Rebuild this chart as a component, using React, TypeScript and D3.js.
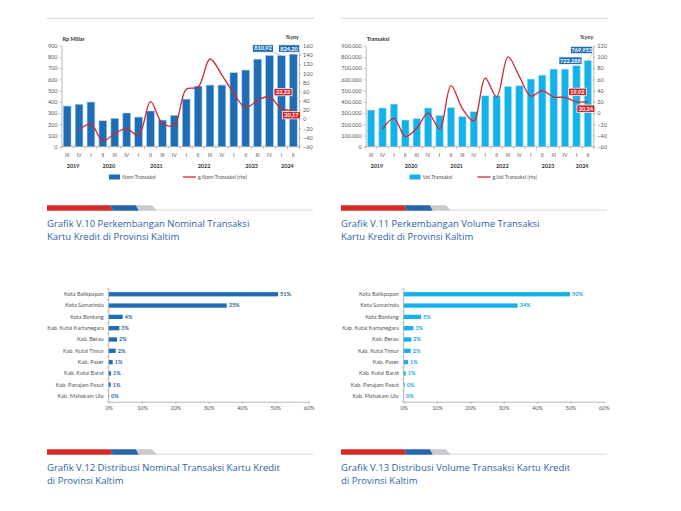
import { useEffect, useRef } from "react";
import * as d3 from "d3";

// quarterly series, 2019 Q3 .. 2024 Q2
const quarterLabels = ["III", "IV", "I", "II", "III", "IV", "I", "II", "III", "IV", "I", "II", "III", "IV", "I", "II", "III", "IV", "I", "II"];
const yearLabels = ["2019", "2020", "2021", "2022", "2023", "2024"];
const yearSpans = [2, 4, 4, 4, 4, 2];

const nominalValues = [362, 378, 398, 231, 252, 300, 264, 318, 237, 279, 424, 540, 549, 549, 659, 683, 780, 812, 810.92, 824.2];
const nominalGrowth = [null, -23, -11, -48, -31, -21, -35, 38, -9, -13, 65, 70, 131, 96, 56, 25, 41, 49, 22.32, 20.17];

const volumeValues = [327000, 345000, 380000, 238000, 252000, 345000, 279000, 350000, 270000, 312000, 454000, 454000, 538000, 543000, 603000, 638000, 692000, 692000, 722288, 769953];
const volumeGrowth = [null, -28.5, -9.5, -42, -27, 0, -28, 49, 8, -14, 62, 29, 100, 65, 30, 40, 28.5, 28, 19.92, 20.24];

const nominalTicks = [0, 100, 200, 300, 400, 500, 600, 700, 800, 900];
const nominalGrowthTicks = [-60, -40, -20, 0, 20, 40, 60, 80, 100, 120, 140, 160];
const volumeTicks = [0, 100000, 200000, 300000, 400000, 500000, 600000, 700000, 800000, 900000];
const volumeGrowthTicks = [-60, -40, -20, 0, 20, 40, 60, 80, 100, 120];

// distribution by district, Q2 2024
const districts = ["Kota Balikpapan", "Kota Samarinda", "Kota Bontang", "Kab. Kutai Kartanegara", "Kab. Berau", "Kab. Kutai Timur", "Kab. Paser", "Kab. Kutai Barat", "Kab. Panajam Pasut", "Kab. Mahakam Ulu"];
const nominalShare = [50.8, 35.4, 4.2, 3.2, 2.5, 2.1, 1.2, 0.7, 0.6, 0.1];
const nominalShareLabels = ["51%", "35%", "4%", "3%", "2%", "2%", "1%", "1%", "1%", "0%"];
const volumeShare = [49.9, 34.2, 5.2, 2.9, 2.3, 2.1, 1.3, 0.6, 0.3, 0.1];
const volumeShareLabels = ["50%", "34%", "5%", "3%", "2%", "2%", "1%", "1%", "0%", "0%"];
const shareTicks = [0, 10, 20, 30, 40, 50, 60];

const idLocale = d3.formatLocale({ decimal: ",", thousands: ".", grouping: [3], currency: ["", ""] });
const fmtInt = idLocale.format(",d");
const fmt2 = idLocale.format(".2f");

const FONT = "Lato, 'Open Sans', sans-serif";
const CAPTION_FONT = "'Open Sans', Lato, sans-serif";
const RED = "#d3262d";
const AXIS = "#8c8c8c";
const TEXT = "#555";

interface Note {
  index: number;
  series: "bar" | "line";
  dx: number;
  dy: number;
  w: number;
  leader?: boolean;
}

interface ComboProps {
  x0: number;
  x1: number;
  bars: number[];
  growth: Array<number | null>;
  leftTicks: number[];
  rightTicks: number[];
  leftFormat: (v: number) => string;
  barFormat: (v: number) => string;
  unit: string;
  barColor: string;
  barStroke: string;
  boxColor: string;
  barLegend: string;
  lineLegend: string;
  legendX: number;
  lineLegendX: number;
  notes: Note[];
}

const TOP = 45.7;
const BOTTOM = 146.7;

function ComboChart(p: ComboProps) {
  const ref = useRef<SVGGElement>(null);

  useEffect(() => {
    const g = d3.select(ref.current);
    g.selectAll("*").remove();

    const x = d3
      .scaleBand<number>()
      .domain(d3.range(quarterLabels.length))
      .range([p.x0, p.x1])
      .paddingInner(0.35)
      .paddingOuter(0.15);
    const yL = d3
      .scaleLinear()
      .domain([0, d3.max(p.leftTicks) ?? 0])
      .range([BOTTOM, TOP]);
    const yR = d3
      .scaleLinear()
      .domain(d3.extent(p.rightTicks) as [number, number])
      .range([BOTTOM, TOP]);
    const cx = (i: number) => (x(i) ?? 0) + x.bandwidth() / 2;

    // bars
    g.append("g")
      .selectAll("rect")
      .data(p.bars)
      .join("rect")
      .attr("x", (_, i) => x(i) ?? 0)
      .attr("y", (d) => yL(d))
      .attr("width", x.bandwidth())
      .attr("height", (d) => yL(0) - yL(d))
      .attr("fill", p.barColor)
      .attr("stroke", p.barStroke)
      .attr("stroke-width", 0.6);

    // axes
    const left = g
      .append("g")
      .attr("transform", `translate(${p.x0},0)`)
      .call(d3.axisLeft(yL).tickValues(p.leftTicks).tickFormat((d) => p.leftFormat(+d)).tickSize(2).tickSizeOuter(0).tickPadding(2));
    const right = g
      .append("g")
      .attr("transform", `translate(${p.x1},0)`)
      .call(d3.axisRight(yR).tickValues(p.rightTicks).tickSize(2).tickSizeOuter(0).tickPadding(2));
    [left, right].forEach((a) => {
      a.select(".domain").attr("stroke", AXIS).attr("stroke-width", 0.6);
      a.selectAll(".tick line").attr("stroke", AXIS).attr("stroke-width", 0.6);
      a.selectAll(".tick text").attr("fill", TEXT).attr("font-size", 5.5).attr("font-family", FONT);
    });

    // category axis
    g.append("line")
      .attr("x1", p.x0)
      .attr("x2", p.x1)
      .attr("y1", BOTTOM)
      .attr("y2", BOTTOM)
      .attr("stroke", AXIS)
      .attr("stroke-width", 0.6);
    const step = x.step();
    const edge = (i: number) => (i < quarterLabels.length ? (x(i) ?? 0) : (x(i - 1) ?? 0) + step) - (step - x.bandwidth()) / 2;
    g.append("g")
      .selectAll("line")
      .data(d3.range(quarterLabels.length + 1))
      .join("line")
      .attr("x1", edge)
      .attr("x2", edge)
      .attr("y1", BOTTOM)
      .attr("y2", BOTTOM + 2.5)
      .attr("stroke", AXIS)
      .attr("stroke-width", 0.5);
    g.append("g")
      .selectAll("text")
      .data(quarterLabels)
      .join("text")
      .attr("x", (_, i) => cx(i))
      .attr("y", 156.5)
      .attr("text-anchor", "middle")
      .attr("font-size", 5.3)
      .attr("font-family", FONT)
      .attr("fill", TEXT)
      .text((d) => d);
    const starts = yearSpans.map((_, k) => d3.sum(yearSpans.slice(0, k)));
    g.append("g")
      .selectAll("text")
      .data(yearLabels)
      .join("text")
      .attr("x", (_, k) => (cx(starts[k]) + cx(starts[k] + yearSpans[k] - 1)) / 2)
      .attr("y", 167.5)
      .attr("text-anchor", "middle")
      .attr("font-size", 5.5)
      .attr("font-weight", "bold")
      .attr("font-family", FONT)
      .attr("fill", "#333")
      .text((d) => d);

    // unit labels
    g.append("text")
      .attr("x", p.x0 + 1)
      .attr("y", 41)
      .attr("font-size", 5.5)
      .attr("font-weight", "bold")
      .attr("font-family", FONT)
      .attr("fill", "#333")
      .text(p.unit);
    g.append("text")
      .attr("x", p.x1)
      .attr("y", 39)
      .attr("text-anchor", "end")
      .attr("font-size", 5.5)
      .attr("font-weight", "bold")
      .attr("font-family", FONT)
      .attr("fill", "#333")
      .text("%yoy");

    // growth line
    const line = d3
      .line<number | null>()
      .defined((d) => d != null)
      .x((_, i) => cx(i))
      .y((d) => yR(d as number))
      .curve(d3.curveCatmullRom.alpha(0.5));
    g.append("path")
      .datum(p.growth)
      .attr("d", line)
      .attr("fill", "none")
      .attr("stroke", RED)
      .attr("stroke-width", 1.3);

    // data labels
    p.notes.forEach((n) => {
      const px = cx(n.index);
      const val = n.series === "bar" ? p.bars[n.index] : (p.growth[n.index] as number);
      const py = n.series === "bar" ? yL(val) : yR(val);
      const bx = px + n.dx;
      const by = py + n.dy;
      const h = 7.4;
      if (n.leader) {
        g.append("line")
          .attr("x1", bx + n.w / 2)
          .attr("y1", by + h / 2)
          .attr("x2", px)
          .attr("y2", py)
          .attr("stroke", "#7f8c99")
          .attr("stroke-width", 0.5);
      }
      g.append("rect")
        .attr("x", bx - n.w / 2)
        .attr("y", by - h / 2)
        .attr("width", n.w)
        .attr("height", h)
        .attr("fill", n.series === "bar" ? p.boxColor : RED)
        .attr("stroke", "#fff")
        .attr("stroke-width", 0.7);
      g.append("text")
        .attr("x", bx)
        .attr("y", by + 2)
        .attr("text-anchor", "middle")
        .attr("font-size", 5.6)
        .attr("font-weight", "bold")
        .attr("font-family", FONT)
        .attr("fill", "#fff")
        .text(n.series === "bar" ? p.barFormat(val) : fmt2(val));
    });

    // legend
    const ly = 177;
    g.append("rect")
      .attr("x", p.legendX)
      .attr("y", ly - 2.5)
      .attr("width", 11)
      .attr("height", 5)
      .attr("fill", p.barColor);
    g.append("text")
      .attr("x", p.legendX + 13)
      .attr("y", ly + 1.9)
      .attr("font-size", 5.3)
      .attr("font-family", FONT)
      .attr("fill", TEXT)
      .text(p.barLegend);
    g.append("line")
      .attr("x1", p.lineLegendX)
      .attr("x2", p.lineLegendX + 13)
      .attr("y1", ly)
      .attr("y2", ly)
      .attr("stroke", RED)
      .attr("stroke-width", 1.3);
    g.append("text")
      .attr("x", p.lineLegendX + 15)
      .attr("y", ly + 1.9)
      .attr("font-size", 5.3)
      .attr("font-family", FONT)
      .attr("fill", TEXT)
      .text(p.lineLegend);
  }, []);

  return <g ref={ref} />;
}

interface ShareProps {
  x0: number;
  values: number[];
  labels: string[];
  color: string;
  labelColor: string;
}

function ShareChart({ x0, values, labels, color, labelColor }: ShareProps) {
  const ref = useRef<SVGGElement>(null);

  useEffect(() => {
    const g = d3.select(ref.current);
    g.selectAll("*").remove();

    const x = d3.scaleLinear().domain([0, 60]).range([x0, x0 + 200]);
    const y = d3.scaleBand<number>().domain(d3.range(districts.length)).range([288.6, 401.7]).paddingInner(0.62).paddingOuter(0.31);

    g.append("g")
      .selectAll("rect")
      .data(values)
      .join("rect")
      .attr("x", x(0))
      .attr("y", (_, i) => y(i) ?? 0)
      .attr("width", (d) => x(d) - x(0))
      .attr("height", y.bandwidth())
      .attr("fill", color);

    g.append("g")
      .selectAll("text")
      .data(labels)
      .join("text")
      .attr("x", (_, i) => x(values[i]) + 2)
      .attr("y", (_, i) => (y(i) ?? 0) + y.bandwidth() / 2 + 1.9)
      .attr("font-size", 5.5)
      .attr("font-weight", "bold")
      .attr("font-family", FONT)
      .attr("fill", labelColor)
      .text((d) => d);

    g.append("g")
      .selectAll("text")
      .data(districts)
      .join("text")
      .attr("x", x0 - 5)
      .attr("y", (_, i) => (y(i) ?? 0) + y.bandwidth() / 2 + 1.9)
      .attr("text-anchor", "end")
      .attr("font-size", 5.6)
      .attr("font-family", FONT)
      .attr("fill", TEXT)
      .text((d) => d);

    const ax = g
      .append("g")
      .attr("transform", `translate(0,401.7)`)
      .call(d3.axisBottom(x).tickValues(shareTicks).tickFormat((d) => `${d}%`).tickSize(2).tickSizeOuter(0).tickPadding(2.5));
    ax.select(".domain").attr("stroke", AXIS).attr("stroke-width", 0.6);
    ax.selectAll(".tick line").attr("stroke", AXIS).attr("stroke-width", 0.6);
    ax.selectAll(".tick text").attr("fill", TEXT).attr("font-size", 5.5).attr("font-family", FONT);

    g.append("line")
      .attr("x1", x0)
      .attr("x2", x0)
      .attr("y1", 288.6)
      .attr("y2", 401.7)
      .attr("stroke", AXIS)
      .attr("stroke-width", 0.6);
    g.append("g")
      .selectAll("line")
      .data(d3.range(districts.length + 1))
      .join("line")
      .attr("x1", x0 - 2)
      .attr("x2", x0)
      .attr("y1", (i) => 288.6 + i * y.step())
      .attr("y2", (i) => 288.6 + i * y.step())
      .attr("stroke", AXIS)
      .attr("stroke-width", 0.5);
  }, []);

  return <g ref={ref} />;
}

function Caption({ x0, y0, lines }: { x0: number; y0: number; lines: string[] }) {
  const h = 5.4;
  const s = 3;
  return (
    <g>
      <line x1={x0 + 100} x2={x0 + 266} y1={y0 + h - 0.5} y2={y0 + h - 0.5} stroke="#d9d9d9" strokeWidth={1} />
      <polygon points={`${x0},${y0} ${x0 + 63},${y0} ${x0 + 63 + s},${y0 + h} ${x0},${y0 + h}`} fill="#d52a28" />
      <polygon points={`${x0 + 63},${y0} ${x0 + 89},${y0} ${x0 + 89 + s},${y0 + h} ${x0 + 63 + s},${y0 + h}`} fill="#2765ad" />
      <polygon points={`${x0 + 89},${y0} ${x0 + 105},${y0} ${x0 + 110},${y0 + h} ${x0 + 89 + s},${y0 + h}`} fill="#c9cbcf" />
      {lines.map((t, i) => (
        <text key={i} x={x0} y={y0 + 21.5 + i * 13.5} fontSize={9.5} fontFamily={CAPTION_FONT} fill="#2d62a8">
          {t}
        </text>
      ))}
    </g>
  );
}

export default function App() {
  return (
    <svg width={681} height={511} style={{ position: "absolute", left: 0, top: 0, background: "#fff" }}>
      <line x1={47} x2={314} y1={18.3} y2={18.3} stroke="#d0d0d0" strokeWidth={1} />
      <line x1={341} x2={608} y1={18.3} y2={18.3} stroke="#d0d0d0" strokeWidth={1} />

      <ComboChart
        x0={61.5}
        x1={299}
        bars={nominalValues}
        growth={nominalGrowth}
        leftTicks={nominalTicks}
        rightTicks={nominalGrowthTicks}
        leftFormat={(v) => String(v)}
        barFormat={fmt2}
        unit="Rp Miliar"
        barColor="#1f6db5"
        barStroke="#9fcaef"
        boxColor="#1f6db5"
        barLegend="Nom Transaksi"
        lineLegend="g.Nom Transaksi (rhs)"
        legendX={109}
        lineLegendX={183}
        notes={[
          { index: 18, series: "bar", dx: -18.5, dy: -7.2, w: 21, leader: true },
          { index: 19, series: "bar", dx: -4.3, dy: -5.7, w: 21 },
          { index: 18, series: "line", dx: 1.6, dy: -16.8, w: 18 },
          { index: 19, series: "line", dx: -2, dy: 5.3, w: 18 },
        ]}
      />
      <ComboChart
        x0={365.7}
        x1={593.3}
        bars={volumeValues}
        growth={volumeGrowth}
        leftTicks={volumeTicks}
        rightTicks={volumeGrowthTicks}
        leftFormat={fmtInt}
        barFormat={fmtInt}
        unit="Transaksi"
        barColor="#14b2ea"
        barStroke="#b9e7f9"
        boxColor="#1f6db5"
        barLegend="Vol Transaksi"
        lineLegend="g.Vol Transaksi (rhs)"
        legendX={409.5}
        lineLegendX={477.5}
        notes={[
          { index: 19, series: "bar", dx: -6.3, dy: -10.3, w: 22, leader: true },
          { index: 18, series: "bar", dx: -6, dy: -5, w: 23 },
          { index: 18, series: "line", dx: 1, dy: -10, w: 18 },
          { index: 19, series: "line", dx: -2, dy: 7, w: 18 },
        ]}
      />

      <Caption x0={47} y0={205.3} lines={["Grafik V.10 Perkembangan Nominal Transaksi", "Kartu Kredit di Provinsi Kaltim"]} />
      <Caption x0={341} y0={205.3} lines={["Grafik V.11 Perkembangan Volume Transaksi", "Kartu Kredit di Provinsi Kaltim"]} />

      <ShareChart x0={108.7} values={nominalShare} labels={nominalShareLabels} color="#1f6db5" labelColor="#1f5fa5" />
      <ShareChart x0={403.7} values={volumeShare} labels={volumeShareLabels} color="#14b2ea" labelColor="#14a6dc" />

      <Caption x0={47} y0={449.3} lines={["Grafik V.12 Distribusi Nominal Transaksi Kartu Kredit", "di Provinsi Kaltim"]} />
      <Caption x0={341} y0={449.3} lines={["Grafik V.13 Distribusi Volume Transaksi Kartu Kredit", "di Provinsi Kaltim"]} />
    </svg>
  );
}
